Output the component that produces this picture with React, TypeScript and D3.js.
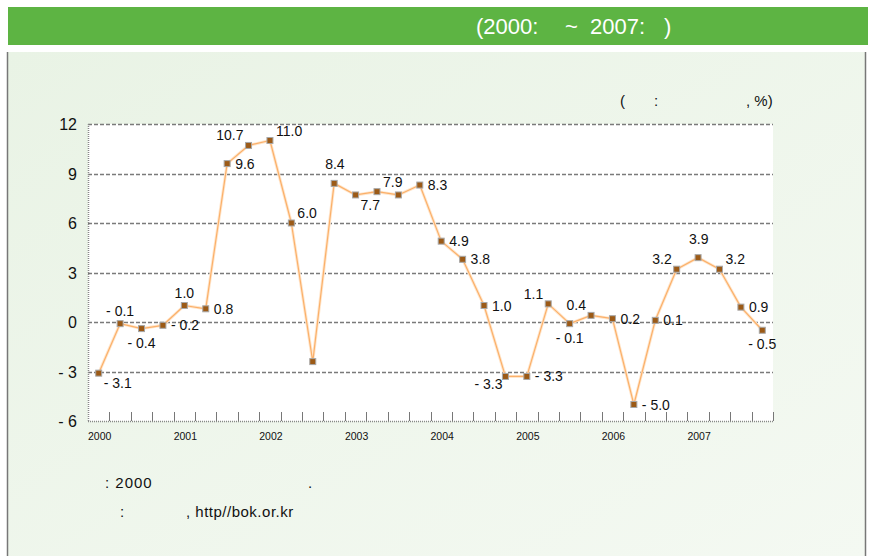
import React, { useRef, useEffect } from "react";
import * as d3 from "d3";

// quarterly values 2000 Q1 .. 2007 Q4
const years = ["2000", "2001", "2002", "2003", "2004", "2005", "2006", "2007"];
const values = [
  -3.1, -0.1, -0.4, -0.2,
  1.0, 0.8, 9.6, 10.7,
  11.0, 6.0, -2.4, 8.4,
  7.7, 7.9, 7.7, 8.3,
  4.9, 3.8, 1.0, -3.3,
  -3.3, 1.1, -0.1, 0.4,
  0.2, -5.0, 0.1, 3.2,
  3.9, 3.2, 0.9, -0.5,
];
// where each data label sits ("" = no label)
const labelPos = [
  "br", "t", "b", "r",
  "t", "r", "r", "tl",
  "tr", "tr", "", "tt",
  "br", "tr", "", "r",
  "r", "r", "r", "bl",
  "r", "tl", "b", "tl",
  "r", "r", "r", "tl",
  "tt", "tr", "r", "b",
];
const yTicks = [12, 9, 6, 3, 0, -3, -6];

const fmt = (v: number) => (v < 0 ? "- " + Math.abs(v).toFixed(1) : v.toFixed(1));
const fmtTick = (v: number) => (v < 0 ? "- " + Math.abs(v) : String(v));

const W = 872;
const H = 556;
const FONT = "'Liberation Sans', Arial, sans-serif";

const App = () => {
  const svgRef = useRef<SVGSVGElement | null>(null);

  useEffect(() => {
    document.body.style.margin = "0";
    const svg = d3.select(svgRef.current);
    svg.selectAll("*").remove();

    const margin = { top: 124, right: 99, bottom: 135, left: 88 };
    const x = d3
      .scaleBand<number>()
      .domain(values.map((_, i) => i))
      .range([margin.left, W - margin.right])
      .padding(0);
    const y = d3.scaleLinear().domain([-6, 12]).range([H - margin.bottom, margin.top]);
    const cx = (i: number) => (x(i) || 0) + x.bandwidth() / 2;

    const defs = svg.append("defs");
    const grad = defs
      .append("linearGradient")
      .attr("id", "panelBg")
      .attr("x1", "0")
      .attr("y1", "0")
      .attr("x2", "1")
      .attr("y2", "1");
    grad.append("stop").attr("offset", "0%").attr("stop-color", "#e9f3e5");
    grad.append("stop").attr("offset", "100%").attr("stop-color", "#f4f9f2");

    // background
    svg.append("rect").attr("width", W).attr("height", H).attr("fill", "#fff");
    svg
      .append("rect")
      .attr("x", 7)
      .attr("y", 52)
      .attr("width", 859)
      .attr("height", H - 52)
      .attr("fill", "url(#panelBg)");
    svg.append("line").attr("x1", 7.5).attr("x2", 7.5).attr("y1", 52).attr("y2", H).attr("stroke", "#777").attr("stroke-width", 1.5);
    svg.append("line").attr("x1", 865.5).attr("x2", 865.5).attr("y1", 52).attr("y2", H).attr("stroke", "#777").attr("stroke-width", 1.5);

    // title bar
    svg.append("rect").attr("x", 8).attr("y", 7).attr("width", 860).attr("height", 38).attr("fill", "#5db443");
    const title = svg.append("g").attr("fill", "#fff").style("font-family", FONT).style("font-size", "22px");
    title.append("text").attr("x", 476).attr("y", 34).text("(2000:");
    title.append("text").attr("x", 565).attr("y", 34).text("~");
    title.append("text").attr("x", 590).attr("y", 34).text("2007:");
    title.append("text").attr("x", 664).attr("y", 34).text(")");

    // unit note
    const unit = svg.append("g").attr("fill", "#111").style("font-family", FONT).style("font-size", "15px");
    unit.append("text").attr("x", 620).attr("y", 106).text("(");
    unit.append("text").attr("x", 654).attr("y", 106).text(":");
    unit.append("text").attr("x", 746).attr("y", 106).text(", %)");

    // plot area
    const [x0, x1] = x.range();
    svg
      .append("rect")
      .attr("x", x0)
      .attr("y", y(12))
      .attr("width", x1 - x0)
      .attr("height", y(-6) - y(12))
      .attr("fill", "#fff");

    svg
      .append("g")
      .selectAll("line")
      .data(yTicks.filter((t) => t > -6))
      .join("line")
      .attr("x1", x0)
      .attr("x2", x1)
      .attr("y1", (d) => Math.round(y(d)) + 0.5)
      .attr("y2", (d) => Math.round(y(d)) + 0.5)
      .attr("stroke", "#7a7a7a")
      .attr("stroke-width", 1.3)
      .attr("stroke-dasharray", "4,2");

    // axes
    svg.append("line").attr("x1", x0 + 0.5).attr("x2", x0 + 0.5).attr("y1", y(12)).attr("y2", y(-6))
      .attr("stroke", "#888").attr("stroke-width", 1.5).attr("stroke-dasharray", "1,1");
    svg.append("line").attr("x1", x0).attr("x2", x1).attr("y1", y(-6) + 0.5).attr("y2", y(-6) + 0.5)
      .attr("stroke", "#888").attr("stroke-width", 1.5).attr("stroke-dasharray", "1,1");

    const tickIdx = d3.range(1, values.length + 1);
    svg
      .append("g")
      .selectAll("line")
      .data(tickIdx)
      .join("line")
      .attr("x1", (d) => Math.round(d < values.length ? x(d) || 0 : x1) + 0.5)
      .attr("x2", (d) => Math.round(d < values.length ? x(d) || 0 : x1) + 0.5)
      .attr("y1", y(-6) - 9)
      .attr("y2", y(-6))
      .attr("stroke", "#777")
      .attr("stroke-width", 1);

    svg
      .append("g")
      .selectAll("text")
      .data(yTicks)
      .join("text")
      .attr("x", 77)
      .attr("y", (d) => y(d) + 6)
      .attr("text-anchor", "end")
      .style("font-family", FONT)
      .style("font-size", "16px")
      .attr("fill", "#111")
      .text((d) => fmtTick(d));

    svg
      .append("g")
      .selectAll("text")
      .data(years)
      .join("text")
      .attr("x", (_, i) => cx(i * 4) + 1)
      .attr("y", 440)
      .attr("text-anchor", "middle")
      .style("font-family", FONT)
      .style("font-size", "10.5px")
      .attr("fill", "#111")
      .text((d) => d);

    // line
    const line = d3
      .line<number>()
      .x((_, i) => cx(i))
      .y((d) => y(d));
    svg.append("path").datum(values).attr("d", line).attr("fill", "none")
      .attr("stroke", "#ffe6cc").attr("stroke-width", 3).attr("stroke-linejoin", "round");
    svg.append("path").datum(values).attr("d", line).attr("fill", "none")
      .attr("stroke", "#fbb06a").attr("stroke-width", 1.2).attr("stroke-linejoin", "round");

    // markers
    svg
      .append("g")
      .selectAll("rect")
      .data(values)
      .join("rect")
      .attr("x", (_, i) => cx(i) - 3)
      .attr("y", (d) => y(d) - 3)
      .attr("width", 6)
      .attr("height", 6)
      .attr("fill", "#9c5a16")
      .attr("stroke", "#a8a8a8")
      .attr("stroke-width", 1);

    // data labels
    const off: Record<string, [number, number, string]> = {
      r: [8, 5, "start"],
      t: [0, -8, "middle"],
      tt: [0, -14, "start"],
      b: [0, 19, "middle"],
      br: [5, 15, "start"],
      tr: [6, -5, "start"],
      tl: [-5, -5, "end"],
      bl: [-3, 13, "end"],
    };
    svg
      .append("g")
      .selectAll("text")
      .data(values.map((v, i) => ({ v, i, p: labelPos[i] })).filter((d) => d.p))
      .join("text")
      .attr("x", (d) => cx(d.i) + off[d.p][0] - (d.p === "tt" ? 9 : 0))
      .attr("y", (d) => y(d.v) + off[d.p][1])
      .attr("text-anchor", (d) => off[d.p][2])
      .style("font-family", FONT)
      .style("font-size", "14px")
      .attr("fill", "#111")
      .text((d) => fmt(d.v));

    // footnotes
    const foot = svg.append("g").attr("fill", "#111").style("font-family", FONT).style("font-size", "15px").style("letter-spacing", "1px");
    foot.append("text").attr("x", 105).attr("y", 488).text(": 2000");
    foot.append("text").attr("x", 308).attr("y", 488).text(".");
    foot.append("text").attr("x", 120).attr("y", 517).text(":");
    foot.append("text").attr("x", 186).attr("y", 517).style("letter-spacing", "0.5px").text(", http//bok.or.kr");
  }, []);

  return <svg ref={svgRef} width={W} height={H} style={{ display: "block" }} />;
};

export default App;
